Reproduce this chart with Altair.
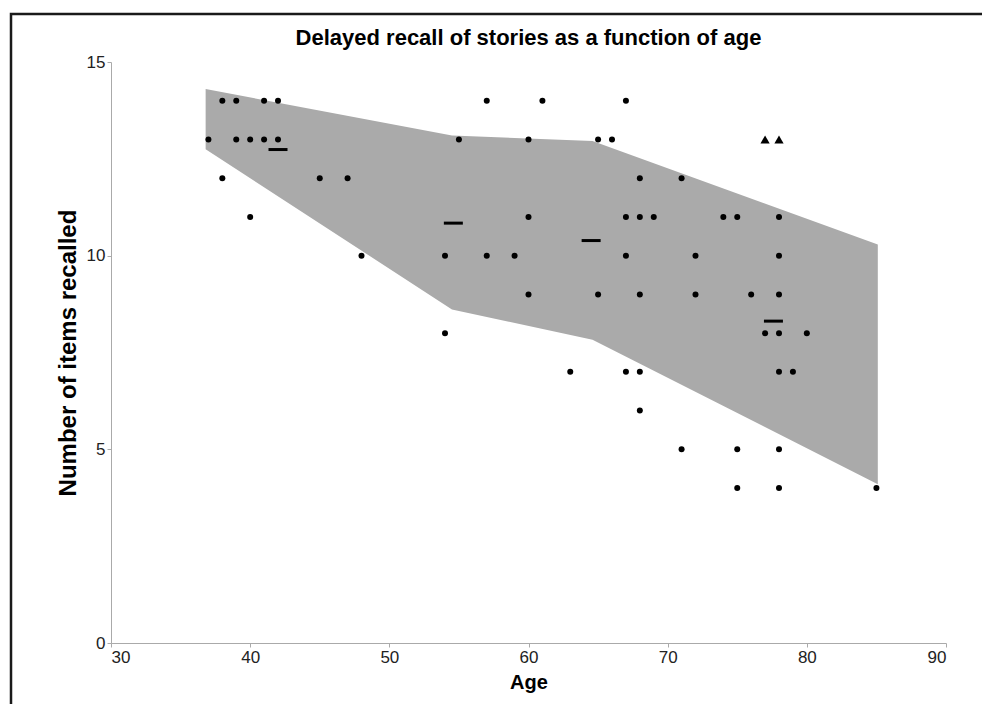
import altair as alt
import pandas as pd

# Individual participants (circles): age and items recalled
pt_age = [38, 39, 41, 42, 57, 61, 67,
          37, 39, 40, 41, 42, 55, 60, 65, 66,
          38, 45, 47, 68, 71,
          40, 60, 67, 68, 69, 74, 75, 78,
          48, 54, 57, 59, 67, 72, 78,
          60, 65, 68, 72, 76, 78,
          54, 77, 78, 80,
          63, 67, 68, 78, 79,
          68,
          71, 75, 78,
          75, 78, 85]
pt_val = [14] * 7 + [13] * 9 + [12] * 5 + [11] * 8 + [10] * 7 + [9] * 6 + \
         [8] * 4 + [7] * 5 + [6] * 1 + [5] * 3 + [4] * 3

# Special cases (triangles)
tri_age = [77, 78]
tri_val = [13, 13]

# Group means (dashes)
mean_age = [42.0, 54.6, 64.5, 77.6]
mean_val = [12.74, 10.84, 10.39, 8.31]

# Shaded band vertices
band_age = [36.8, 54.5, 64.6, 85.1]
band_hi = [14.3, 13.1, 12.96, 10.29]
band_lo = [12.75, 8.61, 7.83, 4.1]

points = pd.DataFrame({"age": pt_age, "val": pt_val})
tris = pd.DataFrame({"age": tri_age, "val": tri_val})
means = pd.DataFrame({"age": mean_age, "val": mean_val})
band = pd.DataFrame({"age": band_age, "hi": band_hi, "lo": band_lo})

FONT = "Liberation Sans"

xscale = alt.Scale(domain=[30, 90], nice=False)
yscale = alt.Scale(domain=[0, 15], nice=False)

xaxis = alt.Axis(values=[30, 40, 50, 60, 70, 80, 90], title="Age",
                 labelFont=FONT, labelFontSize=17, labelColor="#222222",
                 labelPadding=2, tickSize=4,
                 titleFont=FONT, titleFontSize=20, titlePadding=7)
yaxis = alt.Axis(values=[0, 5, 10, 15], title="Number of items recalled",
                 labelFont=FONT, labelFontSize=17, labelColor="#222222",
                 labelPadding=2, tickSize=4,
                 titleFont=FONT, titleFontSize=24, titlePadding=6)

area = alt.Chart(band).mark_area(color="#aaaaaa", opacity=1).encode(
    x=alt.X("age:Q", scale=xscale, axis=xaxis),
    y=alt.Y("hi:Q", scale=yscale, axis=yaxis),
    y2="lo:Q",
)

dots = alt.Chart(points).mark_circle(color="black", size=36, opacity=1).encode(
    x=alt.X("age:Q", scale=xscale),
    y=alt.Y("val:Q", scale=yscale),
)

triangles = alt.Chart(tris).mark_point(
    shape="triangle-up", filled=True, color="black", size=85, opacity=1
).encode(
    x=alt.X("age:Q", scale=xscale),
    y=alt.Y("val:Q", scale=yscale),
)

dashes = alt.Chart(means).mark_tick(
    color="black", orient="horizontal", size=19, thickness=3, opacity=1
).encode(
    x=alt.X("age:Q", scale=xscale),
    y=alt.Y("val:Q", scale=yscale),
)

frame = alt.Chart(pd.DataFrame({"a": [0]})).mark_rect(
    filled=False, stroke="#1a1a1a", strokeWidth=2.5
).encode(
    x=alt.value(-100), x2=alt.value(1000), y=alt.value(-48), y2=alt.value(800)
)

chart = alt.layer(area, dots, triangles, dashes, frame).properties(
    width=835,
    height=581,
    title=alt.TitleParams(
        "Delayed recall of stories as a function of age",
        fontSize=22, font=FONT, fontWeight="bold", color="black",
        offset=10, frame="group", dy=47,
    ),
    autosize=alt.AutoSizeParams(type="none"),
    padding={"left": 103, "top": 54, "right": 36, "bottom": 61},
).configure_view(strokeWidth=0).configure_axis(
    grid=False,
    domainColor="#aaaaaa",
    tickColor="#aaaaaa",
    titleFontWeight="bold",
    titleColor="black",
)

chart.save("out.html", embed_options={"renderer": "svg", "actions": False})
